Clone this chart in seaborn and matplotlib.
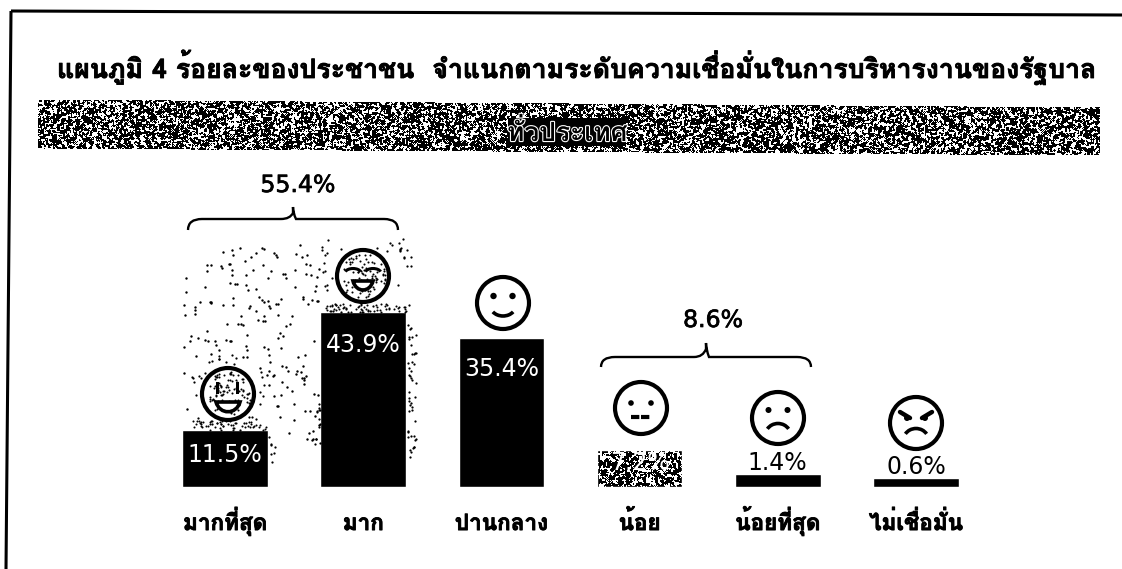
import numpy as np
import pandas as pd
import matplotlib
matplotlib.use('Agg')
import matplotlib.pyplot as plt
import seaborn as sns
import matplotlib.patheffects as pe
from matplotlib.patches import Circle, Arc, PathPatch, Rectangle
from matplotlib.path import Path

THAI = ['Loma', 'DejaVu Sans']
LATIN = 'DejaVu Sans'

title = 'แผนภูมิ 4 ร้อยละของประชาชน  จำแนกตามระดับความเชื่อมั่นในการบริหารงานของรัฐบาล'
subtitle = 'ทั่วประเทศ'
categories = ['มากที่สุด', 'มาก', 'ปานกลาง', 'น้อย', 'น้อยที่สุด', 'ไม่เชื่อมั่น']
percent = [11.5, 43.9, 35.4, 7.2, 1.4, 0.6]
# the bars of the reference are not proportional to their labels: drawn heights
drawn_height = [57, 175, 149, 37, 13, 9]
group_high = 55.4
group_low = 8.6

W, H = 1122, 569
sns.set_theme(style='white')
fig = plt.figure(figsize=(W / 100, H / 100), dpi=100, facecolor='white')

heavy = [pe.withStroke(linewidth=0.6, foreground='black')]

# ---- bars
BASE, LEFT, RIGHT, TOP = 487, 156, 985, 187
ax = fig.add_axes([LEFT / W, (H - BASE) / H, (RIGHT - LEFT) / W, (BASE - TOP) / H])
df = pd.DataFrame({'level': categories, 'height': drawn_height})
sns.barplot(data=df, x='level', y='height', color='black', saturation=1, width=0.62, ax=ax)
ax.set_ylim(0, BASE - TOP)
ax.set_xlabel('')
ax.set_ylabel('')
ax.set_yticks([])
ax.patch.set_alpha(0)
sns.despine(ax=ax, left=True, bottom=True)
ax.tick_params(axis='x', length=0, pad=31)
for lab in ax.get_xticklabels():
    lab.set_family(THAI)
    lab.set_fontweight('bold')
    lab.set_fontsize(16.2)
    lab.set_verticalalignment('baseline')
    lab.set_color('black')
    lab.set_path_effects(heavy)

# ---- overlay in picture pixels
ov = fig.add_axes([0, 0, 1, 1], zorder=5)
ov.set_xlim(0, W)
ov.set_ylim(H, 0)
ov.axis('off')
ov.patch.set_alpha(0)

# value labels: offset from bar top in px (the bar axis runs in px)
offsets = [-25, -33, -31, -13, 11, 11]
colors = ['white', 'white', 'white', 'white', 'black', 'black']
for i, (p, h, dy, c) in enumerate(zip(percent, drawn_height, offsets, colors)):
    ov.text(i, h + dy, f'{p}%', ha='center', va='center', color=c, transform=ax.transData,
            family=LATIN, fontsize=17, zorder=6)

# frame
ov.plot([11, 6], [11, H], color='black', lw=2.2, solid_capstyle='butt')
ov.plot([11, W], [11, 15], color='black', lw=2.2, solid_capstyle='butt')

# title fitted to its width in the reference
t = ov.text(57, 67, title, family=THAI, fontweight='bold', fontsize=20, va='center', ha='left', color='black',
            path_effects=heavy)
fig.canvas.draw()
t.set_fontsize(20 * 1040 / t.get_window_extent().width)

# deterministic hash noise for the scan's dithering and speckle (texture, not data)
def hash01(a, b):
    n = (np.sin(a * 12.9898 + b * 78.233) * 43758.5453) % 1
    return (np.sin(n * 91.17 + a * 0.37 + b * 1.13) * 24634.6345) % 1

yy, xx = np.mgrid[0:H, 0:W]
n = hash01(xx.astype(float), yy.astype(float))
noise = n.copy()
for dx, dy in ((1, 0), (-1, 0), (0, 1), (0, -1)):
    noise += 0.7 * np.roll(np.roll(n, dx, 1), dy, 0)
cut = np.quantile(noise, 0.62)
img = np.zeros((H, W, 4))
band = (xx >= 38) & (xx <= 1099) & (yy >= 99 + (xx - 38) * 8 / 1061) & (yy <= 148 + (xx - 38) * 7 / 1061)
img[band, 3] = 1
img[band & (noise > cut), :3] = 1
b = ax.patches[3]
(x0, y0), (x1, y1) = ax.transData.transform([(b.get_x(), 0), (b.get_x() + b.get_width(), b.get_height())])
barmask = (xx >= x0) & (xx <= x1) & (yy >= H - y1) & (yy <= H - y0)
img[barmask & (noise > cut), :3] = 1
img[barmask & (noise > cut), 3] = 1
ov.imshow(img, extent=(0, W, H, 0), interpolation='nearest', aspect='auto', zorder=1)
ov.set_xlim(0, W)
ov.set_ylim(H, 0)

ov.add_patch(Rectangle((508, 118), 118, 28, fc='black', ec='none', zorder=2))
ov.text(567, 132, subtitle, family=THAI, fontweight='bold', fontsize=19, ha='center', va='center', color='black',
        path_effects=[pe.withStroke(linewidth=1.6, foreground='white')], zorder=3)

def speckle(count, x0, x1, y0, y1, s=2.6, keep=None, start=1):
    i = np.arange(start, count + start, dtype=float)
    px = x0 + hash01(i, i * 0.5 + 3.1) * (x1 - x0)
    py = y0 + hash01(i * 1.7 + 9.2, i) * (y1 - y0)
    if keep is not None:
        k = keep(px, py)
        px, py = px[k], py[k]
    ov.scatter(px, py, s=s, c='black', linewidths=0, zorder=2)

centers = [(228, 394), (363, 276), (503, 303), (641, 408), (778, 418), (916, 423)]
def ring(c, r0, r1):
    return lambda x, y: (np.hypot(x - c[0], y - c[1]) > r0) & (np.hypot(x - c[0], y - c[1]) < r1)
def inner(c, r):
    return lambda x, y: np.hypot(x - c[0], y - c[1]) < r

def main_zone(x, y):
    inside = (y > 245 + np.clip(235 - x, 0, 60) * 0.5) & (y < 460)
    d1 = np.hypot(x - 228, y - 394) > 40
    d2 = np.hypot(x - 363, y - 276) > 29
    low = ~((x < 270) & (y > 430)) & (y < 410 + np.clip(x - 250, 0, 70) * 0.7)
    return inside & d1 & d2 & low

speckle(260, 183, 320, 245, 460, s=3.0, keep=main_zone)
speckle(70, 320, 416, 238, 312, keep=ring(centers[1], 29, 60), start=500)
speckle(90, 190, 272, 352, 430, keep=ring(centers[0], 29, 40), start=900)
speckle(45, 408, 416, 325, 460, start=1400)
speckle(12, 315, 320, 400, 445, start=1600)
speckle(7, 268, 276, 430, 462, start=1800)
speckle(60, 322, 408, 304, 312, s=2.2, start=2000)
speckle(55, 190, 268, 421, 430, s=2.2, start=2300)
speckle(110, 205, 251, 371, 417, s=2.2, keep=inner(centers[0], 23), start=2600)
speckle(100, 340, 386, 253, 299, s=2.2, keep=inner(centers[1], 23), start=2900)

# faces
LW = 2.6
def head(c):
    ov.add_patch(Circle(c, 26, fc='none', ec='black', lw=LW + 0.4, zorder=4))
def dots(c, dx=9.5, dy=-7, r=3.2):
    for s in (-1, 1):
        ov.add_patch(Circle((c[0] + s * dx, c[1] + dy), r, fc='black', ec='none', zorder=4))
def curve(c, dy, w, h, th0, th1, lw=LW):
    ov.add_patch(Arc((c[0], c[1] + dy), w, h, theta1=th0, theta2=th1, ec='black', lw=lw, zorder=4))
def grin(c, top, bottom, half):
    pts = [(c[0] - half, c[1] + top), (c[0] - half * 0.7, c[1] + bottom), (c[0] + half * 0.7, c[1] + bottom),
           (c[0] + half, c[1] + top), (c[0] - half, c[1] + top)]
    ov.add_patch(PathPatch(Path(pts, [Path.MOVETO, Path.CURVE4, Path.CURVE4, Path.CURVE4, Path.CLOSEPOLY]),
                           fc='white', ec='black', lw=2.6, zorder=4))

for c in centers:
    head(c)
# laughing
c = centers[0]
for s in (-1, 1):
    ov.add_patch(Rectangle((c[0] + s * 10 - 1.5, c[1] - 12), 3, 12, fc='black', ec='none', zorder=4))
grin(c, 8, 21, 12)
# happy, closed eyes
c = centers[1]
for s in (-1, 1):
    ov.add_patch(Arc((c[0] + s * 10, c[1] - 3), 16, 9, theta1=190, theta2=350, ec='black', lw=2.2, zorder=4))
grin(c, 5, 17, 10)
# smile
c = centers[2]
dots(c)
curve(c, 3, 25, 20, 30, 150)
# flat mouth
c = centers[3]
dots(c, 10, -5, 2.8)
ov.plot([c[0] - 10, c[0] + 10], [c[1] + 9, c[1] + 9], color='black', lw=3, ls=(0, (2, 0.4)), zorder=4)
# frown
c = centers[4]
dots(c, 9.5, -8, 3.0)
curve(c, 17, 25, 23, 210, 330)
# angry
c = centers[5]
for s in (-1, 1):
    ov.plot([c[0] + s * 16, c[0] + s * 6], [c[1] - 11, c[1] - 5], color='black', lw=3.2, zorder=4)
    ov.add_patch(Circle((c[0] + s * 9, c[1] - 5), 3, fc='black', ec='none', zorder=4))
curve(c, 17, 25, 23, 210, 330)

# braces
def brace(x0, x1, tip, y, tip_y, end_y):
    verts = [(x0, end_y), (x0, y), (x0 + 14, y), (tip - 12, y), (tip - 3, y), (tip, tip_y + 6), (tip, tip_y),
             (tip, tip_y + 6), (tip + 3, y), (tip + 12, y), (x1 - 14, y), (x1, y), (x1, end_y)]
    codes = [Path.MOVETO, Path.CURVE3, Path.CURVE3, Path.LINETO, Path.CURVE3, Path.CURVE3, Path.LINETO,
             Path.CURVE3, Path.CURVE3, Path.LINETO, Path.LINETO, Path.CURVE3, Path.CURVE3]
    ov.add_patch(PathPatch(Path(verts, codes), fc='none', ec='black', lw=1.7, zorder=4))

brace(188, 398, 293, 219, 207, 230)
brace(601, 811, 706, 357, 343, 367)
stroke = [pe.withStroke(linewidth=0.5, foreground='black')]
ov.text(298, 185, f'{group_high}%', family=LATIN, fontsize=17, ha='center', va='center', color='black', path_effects=stroke)
ov.text(713, 320, f'{group_low}%', family=LATIN, fontsize=17, ha='center', va='center', color='black', path_effects=stroke)

fig.savefig('out.png', dpi=100)
